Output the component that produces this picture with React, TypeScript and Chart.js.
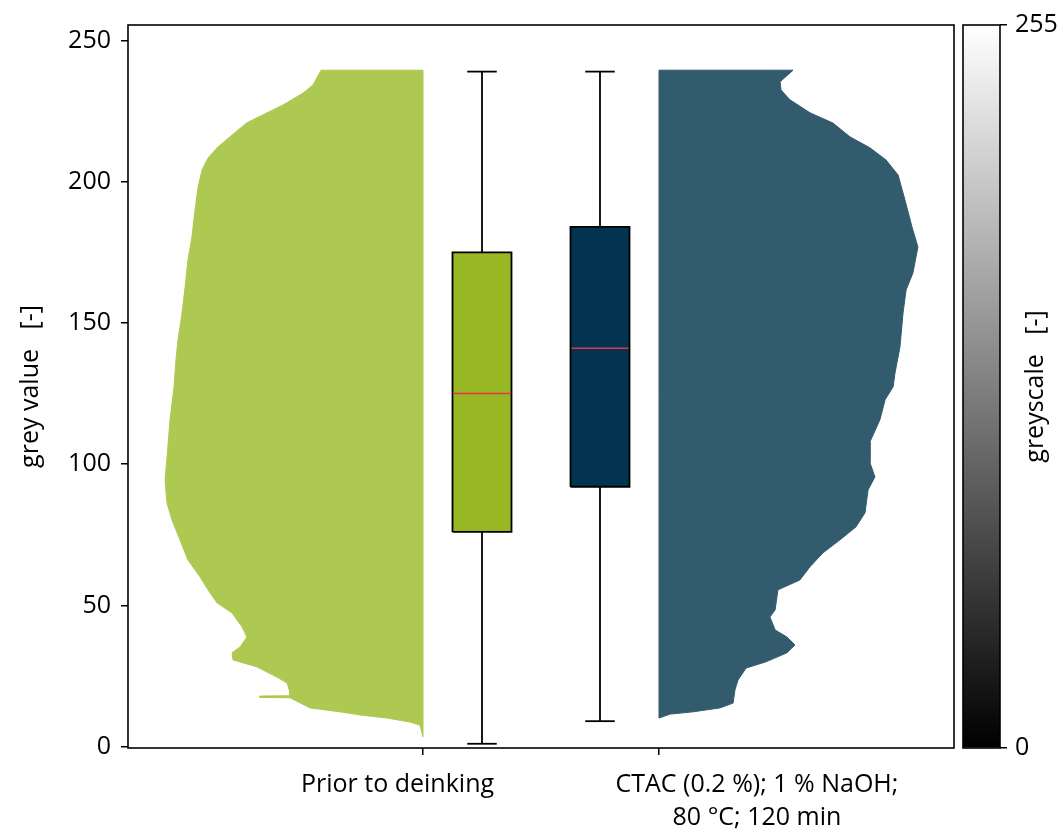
import React, { useEffect, useRef } from 'react';
import { Chart, registerables } from 'chart.js';
Chart.register(...registerables);

// ---------- data ----------
const categories: (string | string[])[] = ['Prior to deinking', ['CTAC (0.2 %); 1 % NaOH;', '80 °C; 120 min']];
const yTicks = [0, 50, 100, 150, 200, 250];
const cbarTicks = [0, 255];

// half-violin outline: grey value and half-width (x-axis units)
const priorGrey = [239.5, 234.3, 231.4, 227.2, 223.7, 220.9, 215.9, 212.3, 208.4, 204.2, 198.2, 190.0, 180.5, 172.3, 162.8, 153.5, 144.0, 136.9, 127.3, 115.7, 106.1, 94.4, 86.3, 80.3, 73.2, 66.1, 60.1, 55.5, 50.9, 47.3, 42.4, 38.8, 35.3, 33.2, 30.7, 28.2, 24.6, 22.5, 19.3, 18.0, 17.9, 17.4, 17.3, 13.7, 12.3, 11.2, 10.1, 8.7, 7.6, 3.5];
const priorWidth = [0.432, 0.466, 0.508, 0.593, 0.678, 0.746, 0.818, 0.869, 0.911, 0.936, 0.953, 0.966, 0.979, 0.996, 1.008, 1.021, 1.038, 1.047, 1.055, 1.072, 1.081, 1.093, 1.085, 1.064, 1.030, 0.996, 0.945, 0.911, 0.873, 0.809, 0.767, 0.746, 0.775, 0.809, 0.805, 0.703, 0.619, 0.576, 0.564, 0.564, 0.691, 0.691, 0.564, 0.479, 0.352, 0.267, 0.153, 0.055, 0.013, 0];

const ctacGrey = [239.5, 235.4, 232.5, 229.0, 224.4, 220.8, 215.9, 212.0, 207.7, 202.4, 193.6, 184.0, 176.9, 167.7, 161.7, 153.5, 141.5, 132.3, 127.4, 122.8, 115.7, 107.9, 100.5, 95.5, 90.9, 82.8, 77.8, 73.2, 68.6, 63.7, 59.0, 55.5, 48.4, 45.9, 41.3, 38.8, 36.0, 33.2, 30.0, 27.8, 23.6, 20.1, 15.4, 13.7, 12.3, 11.5, 10.1];
const ctacWidth = [0.568, 0.513, 0.517, 0.555, 0.640, 0.737, 0.809, 0.894, 0.962, 1.013, 1.042, 1.072, 1.097, 1.076, 1.047, 1.034, 1.021, 1.000, 0.992, 0.958, 0.936, 0.894, 0.894, 0.915, 0.886, 0.873, 0.835, 0.767, 0.695, 0.640, 0.597, 0.504, 0.492, 0.470, 0.492, 0.542, 0.576, 0.542, 0.453, 0.369, 0.335, 0.322, 0.314, 0.258, 0.144, 0.047, 0];

// box plot statistics [prior, ctac]
const boxLow = [1, 9];
const boxQ1 = [76, 92];
const boxMedian = [125, 141];
const boxQ3 = [175, 184];
const boxHigh = [239, 239];

// ---------- styling ----------
const FONT = "'Open Sans', sans-serif";
const violinColors = ['#adc951', '#335b6e'];
const boxColors = ['#97b823', '#03344f'];
const medianColor = '#e8324f';
const violinPos = [0, 1];
const violinSide = [-1, 1];
const boxPos = [0.25, 0.75];
const boxHalf = 0.125;
const capHalf = 0.0625;
const labelPos = [-0.108, 1.415];

function lineDs(points: { x: number; y: number }[], color: string, width: number, order: number, fillColor?: string) {
  return {
    type: 'line' as const,
    data: points,
    borderColor: color,
    borderWidth: width,
    backgroundColor: fillColor || 'transparent',
    fill: fillColor ? 'shape' : false,
    pointRadius: 0,
    pointHoverRadius: 0,
    tension: 0,
    order,
  };
}

function buildDatasets() {
  const ds: any[] = [];
  const violins = [
    [priorGrey, priorWidth],
    [ctacGrey, ctacWidth],
  ];
  violins.forEach(([vals, widths], k) => {
    const p = violinPos[k];
    const s = violinSide[k];
    const pts = [{ x: p, y: vals[0] }];
    vals.forEach((v, i) => pts.push({ x: p + s * widths[i], y: v }));
    pts.push({ x: p, y: vals[vals.length - 1] });
    pts.push({ x: p, y: vals[0] });
    ds.push(lineDs(pts, violinColors[k], 1, 20, violinColors[k]));
  });
  boxPos.forEach((p, k) => {
    ds.push(lineDs([{ x: p, y: boxQ3[k] }, { x: p, y: boxHigh[k] }], '#000', 1.8, 5));
    ds.push(lineDs([{ x: p, y: boxQ1[k] }, { x: p, y: boxLow[k] }], '#000', 1.8, 5));
    ds.push(lineDs([{ x: p - capHalf, y: boxHigh[k] }, { x: p + capHalf, y: boxHigh[k] }], '#000', 1.8, 5));
    ds.push(lineDs([{ x: p - capHalf, y: boxLow[k] }, { x: p + capHalf, y: boxLow[k] }], '#000', 1.8, 5));
    ds.push(
      lineDs(
        [
          { x: p - boxHalf, y: boxQ1[k] },
          { x: p + boxHalf, y: boxQ1[k] },
          { x: p + boxHalf, y: boxQ3[k] },
          { x: p - boxHalf, y: boxQ3[k] },
          { x: p - boxHalf, y: boxQ1[k] },
        ],
        '#000',
        1.8,
        3,
        boxColors[k]
      )
    );
    ds.push(lineDs([{ x: p - boxHalf + 0.004, y: boxMedian[k] }, { x: p + boxHalf - 0.004, y: boxMedian[k] }], medianColor, 1.5, 1));
  });
  return ds;
}

const framePlugin = {
  id: 'frame',
  afterDatasetsDraw(chart: any) {
    const { ctx, chartArea: a } = chart;
    ctx.save();
    ctx.strokeStyle = '#000';
    ctx.lineWidth = 1.6;
    ctx.strokeRect(a.left, a.top, a.right - a.left, a.bottom - a.top);
    ctx.restore();
  },
};

const cbarLabelPlugin = {
  id: 'cbarLabel',
  afterDraw(chart: any) {
    const { ctx, chartArea: a } = chart;
    ctx.save();
    ctx.fillStyle = '#000';
    ctx.font = `25px ${FONT}`;
    ctx.translate(1036, (a.top + a.bottom) / 2);
    ctx.rotate(-Math.PI / 2);
    ctx.textAlign = 'center';
    ctx.textBaseline = 'middle';
    ctx.fillText('greyscale   [-]', 0, 0);
    ctx.restore();
  },
};

export default function App() {
  const mainRef = useRef<HTMLCanvasElement>(null);
  const cbarRef = useRef<HTMLCanvasElement>(null);

  useEffect(() => {
    document.body.style.margin = '0';
    document.body.style.overflow = 'hidden';
    const tickGrid = { display: true, drawOnChartArea: false, drawTicks: true, tickLength: 7, color: '#000', lineWidth: 1.5 };

    const main = new Chart(mainRef.current!, {
      type: 'line',
      data: { datasets: buildDatasets() },
      plugins: [framePlugin],
      options: {
        animation: false,
        responsive: false,
        devicePixelRatio: 1,
        events: [],
        layout: { padding: { left: 0, right: 106, top: 25, bottom: 0 } },
        plugins: { legend: { display: false }, tooltip: { enabled: false } },
        scales: {
          x: {
            type: 'linear',
            position: 'bottom',
            weight: 0,
            min: -1.25,
            max: 2.25,
            afterBuildTicks: (s: any) => {
              s.ticks = violinPos.map((v) => ({ value: v }));
            },
            ticks: { display: false },
            grid: tickGrid,
            border: { display: false },
            afterFit: (s: any) => {
              s.height = 7;
            },
          },
          xl: {
            type: 'linear',
            position: 'bottom',
            weight: 1,
            min: -1.25,
            max: 2.25,
            afterBuildTicks: (s: any) => {
              s.ticks = labelPos.map((v) => ({ value: v }));
            },
            ticks: {
              callback: (_v: any, i: number) => categories[i],
              autoSkip: false,
              maxRotation: 0,
              minRotation: 0,
              padding: 5,
              color: '#000',
              font: { family: FONT, size: 25, lineHeight: 1.33 },
            },
            grid: { display: false },
            border: { display: false },
            afterFit: (s: any) => {
              s.height = 76;
            },
          },
          y: {
            type: 'linear',
            min: -0.5,
            max: 255.5,
            afterBuildTicks: (s: any) => {
              s.ticks = yTicks.map((v) => ({ value: v }));
            },
            ticks: { color: '#000', padding: 10, font: { family: FONT, size: 25 } },
            grid: tickGrid,
            border: { display: false },
            title: {
              display: true,
              text: 'grey value   [-]',
              color: '#000',
              font: { family: FONT, size: 25 },
              padding: { top: 16, bottom: 0 },
            },
            afterFit: (s: any) => {
              s.width = 128;
            },
          },
        },
      } as any,
    });

    const cbar = new Chart(cbarRef.current!, {
      type: 'bar',
      data: {
        labels: ['greyscale'],
        datasets: [
          {
            data: [[cbarTicks[0], cbarTicks[1]]] as any,
            backgroundColor: (c: any) => {
              const a = c.chart.chartArea;
              if (!a) return '#808080';
              const g = c.chart.ctx.createLinearGradient(0, a.bottom, 0, a.top);
              g.addColorStop(0, '#000000');
              g.addColorStop(1, '#ffffff');
              return g;
            },
            borderWidth: 0,
            barPercentage: 1,
            categoryPercentage: 1,
          },
        ],
      },
      plugins: [framePlugin, cbarLabelPlugin],
      options: {
        animation: false,
        responsive: false,
        devicePixelRatio: 1,
        events: [],
        layout: { padding: { left: 963, right: 0, top: 25, bottom: 83 } },
        plugins: { legend: { display: false }, tooltip: { enabled: false } },
        scales: {
          x: { display: false },
          y: {
            position: 'right',
            min: cbarTicks[0],
            max: cbarTicks[1],
            afterBuildTicks: (s: any) => {
              s.ticks = cbarTicks.map((v) => ({ value: v }));
            },
            ticks: { color: '#000', padding: 8, font: { family: FONT, size: 25 } },
            grid: tickGrid,
            border: { display: false },
            afterFit: (s: any) => {
              s.width = 60;
            },
          },
        },
      } as any,
    });

    return () => {
      main.destroy();
      cbar.destroy();
    };
  }, []);

  return (
    <div style={{ position: 'relative', width: 1060, height: 831, background: '#fff' }}>
      <canvas ref={mainRef} width={1060} height={831} style={{ position: 'absolute', left: 0, top: 0 }} />
      <canvas ref={cbarRef} width={1060} height={831} style={{ position: 'absolute', left: 0, top: 0, pointerEvents: 'none' }} />
    </div>
  );
}
